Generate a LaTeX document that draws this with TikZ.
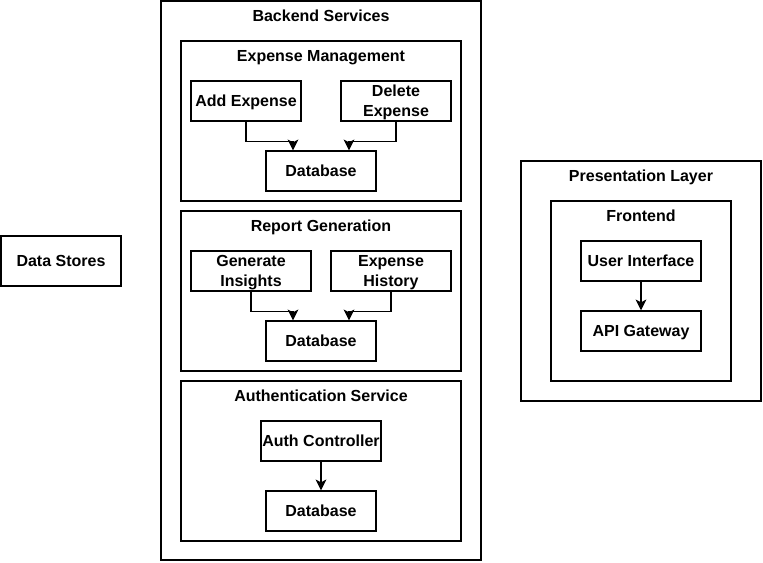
\documentclass[tikz,border=0pt]{standalone}
\usepackage{fontspec}
\setmainfont{Liberation Sans}
\usetikzlibrary{arrows.meta, positioning}

\begin{document}
\begin{tikzpicture}[x=0.75pt, y=-0.75pt, font=\fontsize{12}{15}\selectfont\bfseries]
    % Styles
    \tikzstyle{block} = [rectangle, draw, line width=1.1pt, align=center, minimum width=82.5pt, minimum height=30pt, inner sep=1pt, text height=8.6pt, text depth=0pt]
    \tikzstyle{wideblock} = [block, minimum width=90pt]
    \tikzstyle{twoline} = [text height=23.6pt]
    \tikzstyle{group} = [rectangle, draw, line width=1.1pt, inner sep=0pt]
    \tikzstyle{title} = [inner sep=0pt, text height=8.6pt, text depth=0pt]
    \tikzstyle{line} = [draw, -{Stealth[length=8pt, width=8pt, inset=2pt]}, line width=1.1pt]

    \useasboundingbox (0,0) rectangle (763,562);

    % --- DATA STORES ---
    \node [wideblock, minimum height=37.5pt] (stores) at (61,261) {Data Stores};

    % --- BACKEND SERVICES ---
    \node [group, minimum width=240pt, minimum height=419.25pt] (backend) at (321,280.5) {};
    \node [title] (backendtitle) at (321,16) {Backend Services};

    % Expense Management
    \node [group, minimum width=210pt, minimum height=120pt] (expmgmt) at (321,121) {};
    \node [title] (expmgmttitle) at (321,56) {Expense Management};
    \node [block] (addexp) at (246,101) {Add Expense};
    \node [block, twoline] (delexp) at (396,101) {Delete\\Expense};
    \node [block] (expdb) at (321,171) {Database};

    % Report Generation
    \node [group, minimum width=210pt, minimum height=120pt] (report) at (321,291) {};
    \node [title] (reporttitle) at (321,226) {Report Generation};
    \node [wideblock, twoline] (insights) at (251,271) {Generate\\Insights};
    \node [wideblock, twoline] (history) at (391,271) {Expense\\History};
    \node [block] (reportdb) at (321,341) {Database};

    % Authentication Service
    \node [group, minimum width=210pt, minimum height=120pt] (auth) at (321,461) {};
    \node [title] (authtitle) at (321,396) {Authentication Service};
    \node [wideblock] (authctrl) at (321,441) {Auth Controller};
    \node [block] (authdb) at (321,511) {Database};

    % --- PRESENTATION LAYER ---
    \node [group, minimum width=180pt, minimum height=180pt] (presentation) at (641,281) {};
    \node [title] (presentationtitle) at (641,176) {Presentation Layer};
    \node [group, minimum width=135pt, minimum height=135pt] (frontend) at (641,291) {};
    \node [title] (frontendtitle) at (641,216) {Frontend};
    \node [wideblock] (ui) at (641,261) {User Interface};
    \node [wideblock] (gateway) at (641,331) {API Gateway};

    % --- CONNECTIONS ---
    \path [line] (addexp.south) -- ++(0,20) -| ([xshift=-21pt]expdb.north);
    \path [line] (delexp.south) -- ++(0,20) -| ([xshift=21pt]expdb.north);
    \path [line] (insights.south) -- ++(0,20) -| ([xshift=-21pt]reportdb.north);
    \path [line] (history.south) -- ++(0,20) -| ([xshift=21pt]reportdb.north);
    \path [line] (authctrl) -- (authdb);
    \path [line] (ui) -- (gateway);

\end{tikzpicture}
\end{document}
